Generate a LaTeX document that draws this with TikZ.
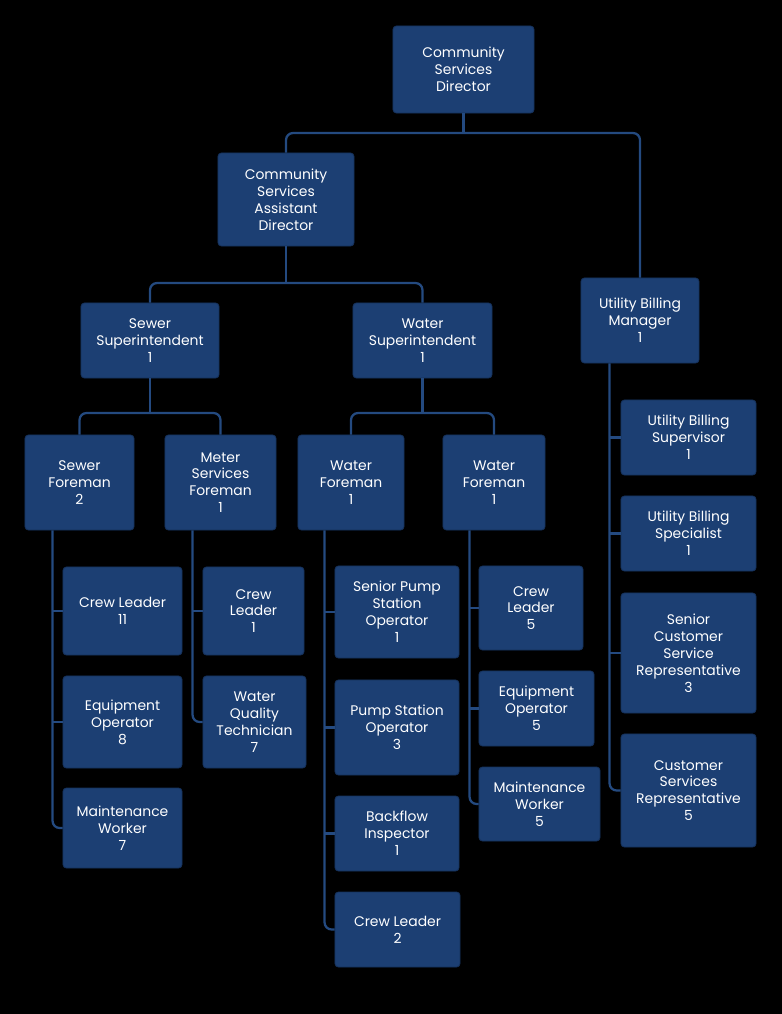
\documentclass[tikz,border=0pt]{standalone}
\usepackage{fontspec}
\setmainfont{Poppins}
\definecolor{orgblue}{RGB}{28,63,115}
\definecolor{orgedge}{RGB}{22,50,92}
\definecolor{linkblue}{RGB}{36,74,128}
\usetikzlibrary{positioning,calc}

\begin{document}
\begin{tikzpicture}[
    x=0.025cm, y=-0.025cm,
    box/.style={rectangle, rounded corners=2.5pt, fill=orgblue, draw=orgedge, line width=0.6pt, text=white, align=center, inner sep=0pt, font=\fontsize{9.9}{12}\selectfont},
    link/.style={draw=linkblue, line width=1.6pt, rounded corners=5pt}
]
    % background and page size
    \fill[black] (0,0) rectangle (782,1014);
    \useasboundingbox (0,0) rectangle (782,1014);

    % top levels
    \node[box, minimum width=3.525cm, minimum height=2.175cm] (dir) at (463.5,69.5) {Community\\Services\\Director};
    \node[box, minimum width=3.4cm, minimum height=2.325cm] (asst) at (286,199.5) {Community\\Services\\Assistant\\Director};
    \node[box, minimum width=2.95cm, minimum height=2.125cm] (ubm) at (640,320.5) {Utility Billing\\Manager\\1};
    \node[box, minimum width=3.45cm, minimum height=1.875cm] (ssup) at (150,340.5) {Sewer\\Superintendent\\1};
    \node[box, minimum width=3.475cm, minimum height=1.875cm] (wsup) at (422.5,340.5) {Water\\Superintendent\\1};

    % foremen
    \node[box, minimum width=2.725cm, minimum height=2.375cm] (sf) at (79.5,482.5) {Sewer\\Foreman\\2};
    \node[box, minimum width=2.775cm, minimum height=2.375cm] (msf) at (220.5,482.5) {Meter\\Services\\Foreman\\1};
    \node[box, minimum width=2.65cm, minimum height=2.375cm] (wfa) at (351,482.5) {Water\\Foreman\\1};
    \node[box, minimum width=2.55cm, minimum height=2.375cm] (wfb) at (494,482.5) {Water\\Foreman\\1};

    % sewer crew
    \node[box, minimum width=2.975cm, minimum height=2.2cm] (scl) at (122.5,611) {Crew Leader\\11};
    \node[box, minimum width=2.975cm, minimum height=2.3cm] (seo) at (122.5,722) {Equipment\\Operator\\8};
    \node[box, minimum width=2.975cm, minimum height=2cm] (smw) at (122.5,828) {Maintenance\\Worker\\7};

    % meter crew
    \node[box, minimum width=2.525cm, minimum height=2.2cm] (mcl) at (253.5,611) {Crew\\Leader\\1};
    \node[box, minimum width=2.575cm, minimum height=2.3cm] (wqt) at (254.5,722) {Water\\Quality\\Technician\\7};

    % water crew a
    \node[box, minimum width=3.1cm, minimum height=2.3cm] (spso) at (397,612) {Senior Pump\\Station\\Operator\\1};
    \node[box, minimum width=3.1cm, minimum height=2.375cm] (pso) at (397,727.5) {Pump Station\\Operator\\3};
    \node[box, minimum width=3.1cm, minimum height=1.875cm] (bfi) at (397,833.5) {Backflow\\Inspector\\1};
    \node[box, minimum width=3.125cm, minimum height=1.875cm] (wcla) at (397.5,929.5) {Crew Leader\\2};

    % water crew b
    \node[box, minimum width=2.6cm, minimum height=2.1cm] (wclb) at (531,608) {Crew\\Leader\\5};
    \node[box, minimum width=2.875cm, minimum height=1.875cm] (weo) at (536.5,708.5) {Equipment\\Operator\\5};
    \node[box, minimum width=3.025cm, minimum height=1.85cm] (wmw) at (539.5,804) {Maintenance\\Worker\\5};

    % billing staff
    \node[box, minimum width=3.375cm, minimum height=1.875cm] (ubsup) at (688.5,437.5) {Utility Billing\\Supervisor\\1};
    \node[box, minimum width=3.375cm, minimum height=1.875cm] (ubspec) at (688.5,533.5) {Utility Billing\\Specialist\\1};
    \node[box, minimum width=3.375cm, minimum height=3cm] (scsr) at (688.5,653) {Senior\\Customer\\Service\\Representative\\3};
    \node[box, minimum width=3.375cm, minimum height=2.825cm] (csr) at (688.5,790.5) {Customer\\Services\\Representative\\5};

    % bus points
    \coordinate (b1) at (dir.south |- 0,133);
    \coordinate (b2) at (asst.south |- 0,283);
    \coordinate (b3) at (ssup.south |- 0,413);
    \coordinate (b4) at (wsup.south |- 0,413);
    \coordinate (sfx) at ([xshift=0.7cm]sf.south west);
    \coordinate (msfx) at ([xshift=0.7cm]msf.south west);
    \coordinate (wfax) at ([xshift=0.675cm]wfa.south west);
    \coordinate (wfbx) at ([xshift=0.675cm]wfb.south west);
    \coordinate (ubmx) at ([xshift=0.725cm]ubm.south west);

    % tree links
    \draw[link] (dir.south) -- (b1);
    \draw[link] (asst.north) |- (b1) -| (ubm.north);
    \draw[link] (asst.south) -- (b2);
    \draw[link] (ssup.north) |- (b2) -| (wsup.north);
    \draw[link] (ssup.south) -- (b3);
    \draw[link] (sf.north) |- (b3) -| (msf.north);
    \draw[link] (wsup.south) -- (b4);
    \draw[link] (wfa.north) |- (b4) -| (wfb.north);

    % staff lines
    \draw[link] (sfx) |- (smw.west);
    \draw[link] (scl.west) -- (scl.west -| sfx);
    \draw[link] (seo.west) -- (seo.west -| sfx);
    \draw[link] (msfx) |- (wqt.west);
    \draw[link] (mcl.west) -- (mcl.west -| msfx);
    \draw[link] (wfax) |- (wcla.west);
    \draw[link] (spso.west) -- (spso.west -| wfax);
    \draw[link] (pso.west) -- (pso.west -| wfax);
    \draw[link] (bfi.west) -- (bfi.west -| wfax);
    \draw[link] (wfbx) |- (wmw.west);
    \draw[link] (wclb.west) -- (wclb.west -| wfbx);
    \draw[link] (weo.west) -- (weo.west -| wfbx);
    \draw[link] (ubmx) |- (csr.west);
    \draw[link] (ubsup.west) -- (ubsup.west -| ubmx);
    \draw[link] (ubspec.west) -- (ubspec.west -| ubmx);
    \draw[link] (scsr.west) -- (scsr.west -| ubmx);
\end{tikzpicture}
\end{document}
